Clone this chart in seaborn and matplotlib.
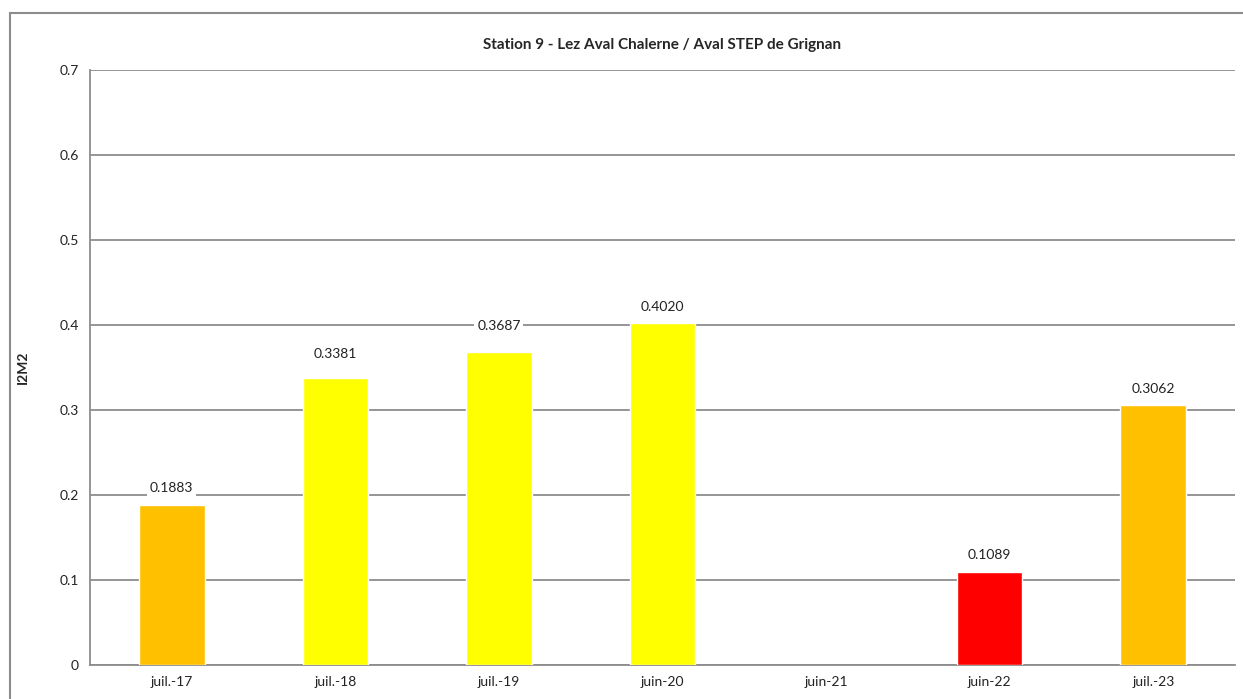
import numpy as np
import pandas as pd
import matplotlib
matplotlib.use("Agg")
import matplotlib.pyplot as plt
from matplotlib.patches import Rectangle
import seaborn as sns

# data
dates = ["juil.-17", "juil.-18", "juil.-19", "juin-20", "juin-21", "juin-22", "juil.-23"]
i2m2 = [0.1883, 0.3381, 0.3687, 0.4020, np.nan, 0.1089, 0.3062]
bar_colors = ["#FFC000", "#FFFF00", "#FFFF00", "#FFFF00", "#FFFF00", "#FF0000", "#FFC000"]
y_ticks = [0, 0.1, 0.2, 0.3, 0.4, 0.5, 0.6, 0.7]
# label offsets above bars (points), the source chart has a few hand-moved labels
label_offsets = [12, 17, 18.5, 12, 0, 12.5, 11.5]

df = pd.DataFrame({"date": dates, "I2M2": i2m2})

sns.set_style("white")
plt.rcParams["font.family"] = ["Lato", "DejaVu Sans"]

fig = plt.figure(figsize=(12.43, 6.99), dpi=100)
ax = fig.add_axes([90 / 1243, 1 - 665 / 699, (1235 - 90) / 1243, (665 - 70) / 699])

# grey frame around the chart area (cut off on the right and bottom)
fig.patches.append(Rectangle((10 / 1243, -0.1), 1.2, 1 - 13 / 699 + 0.1,
                             transform=fig.transFigure, fill=False,
                             edgecolor="#8C8C8C", linewidth=1.5))

sns.barplot(data=df, x="date", y="I2M2", hue="date", order=dates,
            palette=dict(zip(dates, bar_colors)), width=0.4, legend=False,
            saturation=1, ax=ax, zorder=3)

ax.set_ylim(0, 0.7)
ax.set_yticks(y_ticks)
ax.set_yticklabels(["0"] + [f"{t:.1f}" for t in y_ticks[1:]])
ax.yaxis.grid(True, color="#8C8C8C", linewidth=1.3, zorder=0)
ax.set_axisbelow(True)
for side in ["top", "right"]:
    ax.spines[side].set_visible(False)
for side in ["left", "bottom"]:
    ax.spines[side].set_color("#8C8C8C")
    ax.spines[side].set_linewidth(1.3)
ax.tick_params(axis="both", length=0, labelsize=10, labelcolor="#222222", pad=8)

ax.set_xlabel("")
ax.set_ylabel("I2M2", fontsize=10, fontweight="bold", labelpad=22)
ax.set_title("Station 9 - Lez Aval Chalerne / Aval STEP de Grignan",
             fontsize=11, fontweight="bold", pad=15)

for i, v in enumerate(i2m2):
    if np.isnan(v):
        continue
    ax.annotate(f"{v:.4f}", (i, v), xytext=(0, label_offsets[i]), textcoords="offset points",
                ha="center", va="center", fontsize=10, color="#222222", zorder=4,
                bbox=dict(facecolor="white", edgecolor="none", pad=2))

fig.savefig("out.png", dpi=100)
